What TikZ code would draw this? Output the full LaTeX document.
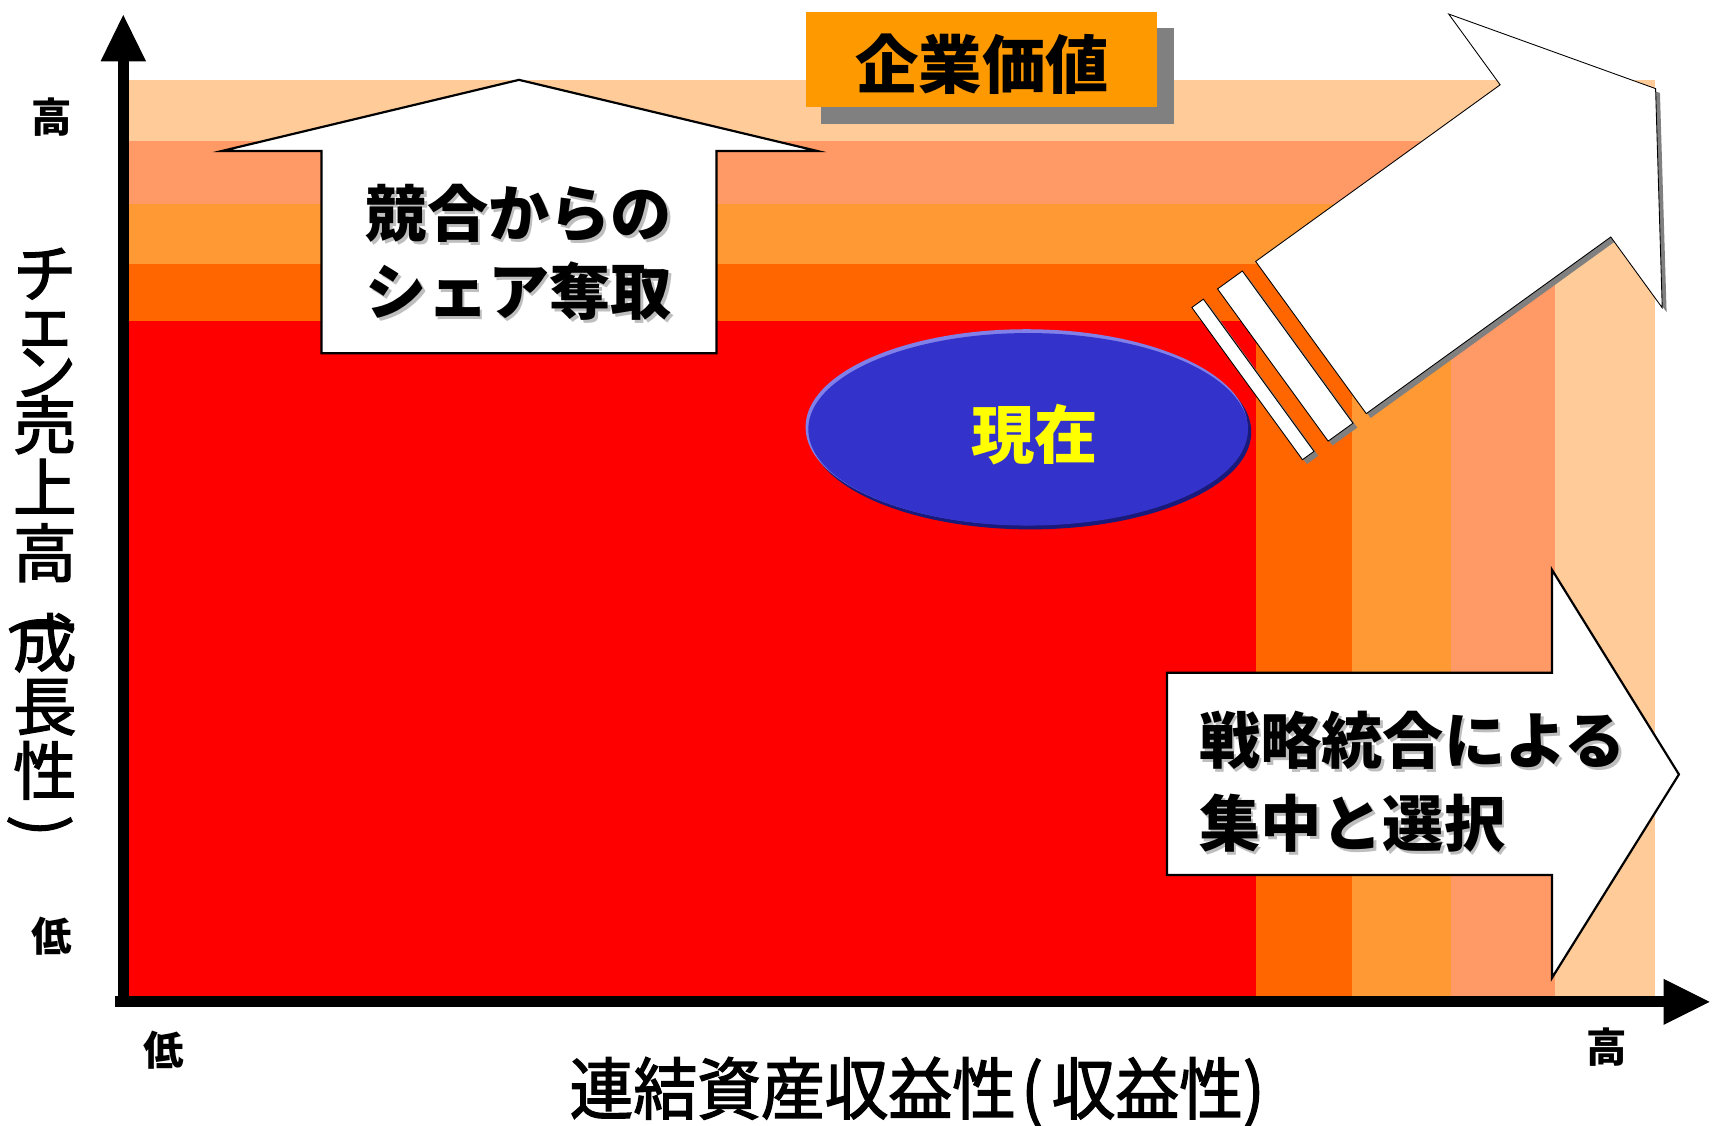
\documentclass[tikz,border=0pt]{standalone}
\usepackage{fontspec}
\newfontfamily\jp{Noto Sans CJK JP}
\newfontfamily\jpm{Noto Sans CJK JP}[FakeBold=2]
\usetikzlibrary{shapes.geometric}
\definecolor{peach}{HTML}{FFCC99}
\definecolor{salmon}{HTML}{FF9966}
\definecolor{orangeA}{HTML}{FF9933}
\definecolor{orangeB}{HTML}{FF6600}
\definecolor{redA}{HTML}{FF0000}
\definecolor{boxorange}{HTML}{FF9900}
\definecolor{shadowgrey}{HTML}{808080}
\definecolor{txtshadow}{HTML}{BEBEBE}
\definecolor{ellblue}{HTML}{3333CC}
\definecolor{ellrim}{HTML}{8080E8}
\definecolor{elldark}{HTML}{1A1A7A}
\definecolor{nowyellow}{HTML}{FFFF00}
\begin{document}
\begin{tikzpicture}[x=0.5pt,y=-0.5pt,
  armtext/.style={font=\jp\bfseries\fontsize{28}{34}\selectfont, inner sep=0pt, anchor=west},
  shadetext/.style={armtext, text=txtshadow},
  axlabel/.style={font=\jp\bfseries\fontsize{18.5}{20}\selectfont, inner sep=0pt},
  vstack/.style={inner sep=0pt, align=center, anchor=north},
  vparen/.style={font=\jpm\fontsize{29}{30}\selectfont, inner sep=0pt, rotate=-90},
  bigtext/.style={font=\jp\bfseries\fontsize{29}{34}\selectfont, inner sep=0pt},
  outline/.style={draw=black, fill=white, line width=1pt, line join=miter},
  thinout/.style={draw=black, fill=white, line width=0.4pt, line join=miter},
  axisline/.style={line width=5pt, line cap=rect}]
\useasboundingbox (0,0) rectangle (1568,1029);
\fill[white] (0,0) rectangle (1568,1029);

% value bands
\fill[peach]   (118,73)    rectangle (1513,911);
\fill[salmon]  (118,129)   rectangle (1422,911);
\fill[orangeA] (118,186.5) rectangle (1327,911);
\fill[orangeB] (118,241)   rectangle (1236,911);
\fill[redA]    (118,293.5) rectangle (1148,911);

% current position ellipse
\fill[elldark] (942,395) ellipse [x radius=202, y radius=89];
\fill[ellrim]  (938.5,390.5) ellipse [x radius=202, y radius=89.5];
\fill[ellblue] (940,392.5) ellipse [x radius=201, y radius=88];
\node[bigtext, text=nowyellow] (now) at (946,397.5) {現在};

% diagonal striped arrow
\begin{scope}[shift={(574pt,-119.5pt)}, x={(0.405pt,0.2925pt)}, y={(0.294pt,-0.4045pt)}]
  \fill[shadowgrey, xshift=2pt, yshift=-2pt] (-72,0) -- (-59,0) -- (-59,172) -- (-72,172) -- cycle;
  \fill[shadowgrey, xshift=2pt, yshift=-2pt] (-43,0) -- (-15,0) -- (-15,172) -- (-43,172) -- cycle;
  \fill[shadowgrey, xshift=2pt, yshift=-2pt] (0,0) -- (276,0) -- (276,-80) -- (389,86) -- (276,252) -- (276,172) -- (0,172) -- cycle;
  \draw[thinout] (-72,0) -- (-59,0) -- (-59,172) -- (-72,172) -- cycle;
  \draw[thinout] (-43,0) -- (-15,0) -- (-15,172) -- (-43,172) -- cycle;
  \draw[thinout] (0,0) -- (276,0) -- (276,-80) -- (389,86) -- (276,252) -- (276,172) -- (0,172) -- cycle;
\end{scope}

% up arrow
\draw[outline] (294,323) -- (294,138) -- (203,138) -- (474.5,73) -- (747,138) -- (655,138) -- (655,323) -- cycle;
\node[shadetext] (up1s) at (336.5,197.5) {競合からの};
\node[shadetext] (up2s) at (336.5,268.5) {シェア奪取};
\node[armtext] (up1) at (334,195) {競合からの};
\node[armtext] (up2) at (334,266) {シェア奪取};

% right arrow
\draw[outline] (1067,615) -- (1419,615) -- (1419,521) -- (1535,708) -- (1419,894) -- (1419,800) -- (1067,800) -- cycle;
\node[shadetext] (rt1s) at (1098.5,679.5) {戦略統合による};
\node[shadetext] (rt2s) at (1098.5,755.5) {集中と選択};
\node[armtext] (rt1) at (1096,677) {戦略統合による};
\node[armtext] (rt2) at (1096,753) {集中と選択};

% enterprise value box
\fill[shadowgrey] (751,26) rectangle (1073,113);
\fill[boxorange] (737,11) rectangle (1058,98);
\node[bigtext] (ev) at (898,59) {企業価値};

% axes
\coordinate (O) at (113,916);
\coordinate (ytop) at (113,56);
\coordinate (xend) at (1521,916);
\draw[axisline] (113,914) -- (ytop);
\draw[axisline] (110,916) -- (xend);
\fill (112.7,13.7) -- (133.5,56) -- (92,56) -- cycle;
\fill (1563,916) -- (1521,937) -- (1521,895) -- cycle;

% axis labels
\node[axlabel] (yhi) at (47.5,107.5) {高};
\node[axlabel] (ylo) at (47.5,855.5) {低};
\node[axlabel] (xlo) at (150,960) {低};
\node[axlabel] (xhi) at (1469,957) {高};

% y title (vertical)
\node[vstack, font={\jpm\fontsize{29}{22}\selectfont\lineskiplimit=-100pt\lineskip=0pt}] (ytitleA) at (41,219)
  {\rule{0pt}{26pt}チ\\ェ\\[1pt]ン\\[2.5pt]売\\[6.5pt]上\\[8pt]高};
\node[vparen] (ypl) at (38,571) {\makebox[1pt][c]{(}};
\node[vstack, font={\jpm\fontsize{29}{29}\selectfont\lineskiplimit=-100pt\lineskip=0pt}] (ytitleB) at (41,557)
  {\rule{0pt}{26pt}成\\長\\[0.5pt]性};
\node[vparen] (ypr) at (36.5,755) {\makebox[1pt][c]{)}};

% x title
\node[font=\jpm\fontsize{29.15}{32}\selectfont, inner sep=0pt] (xtitle) at (838.5,998.5)
  {\scalebox{1}[1.06]{連結資産収益性\hspace{2.5pt}(\hspace{4pt}収益性)}};
\end{tikzpicture}
\end{document}
